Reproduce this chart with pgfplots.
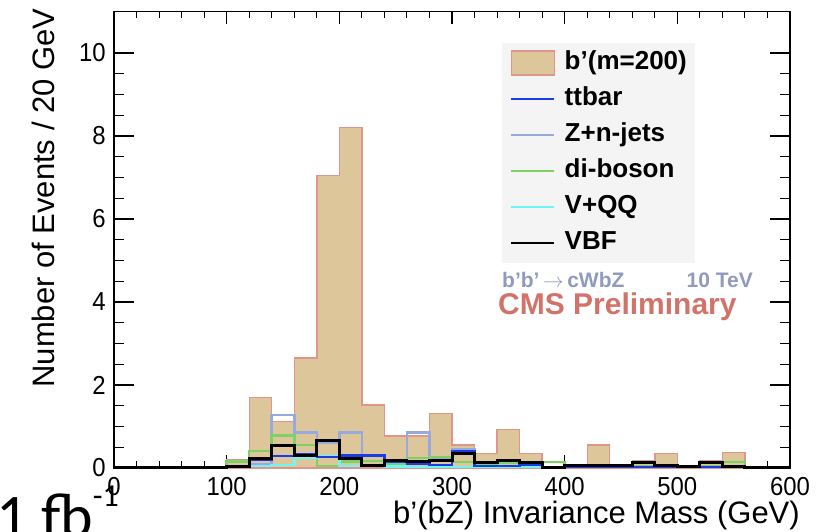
\documentclass[border=0pt]{standalone}
\usepackage{pgfplots}
\pgfplotsset{compat=1.18}
\usepackage{pgfplotstable}
\usepackage{fontspec}
\setmainfont{Liberation Sans}
\newfontfamily\tickfont[FakeStretch=0.92]{Liberation Sans}
\newfontfamily\titlefont{Liberation Sans}
\newfontfamily\lumifont{Carlito}

\definecolor{sigfill}{RGB}{221,199,154}
\definecolor{sigline}{RGB}{222,150,140}
\definecolor{ttcol}{RGB}{25,60,230}
\definecolor{zjcol}{RGB}{150,170,220}
\definecolor{dbcol}{RGB}{125,210,100}
\definecolor{vqqcol}{RGB}{110,245,245}
\definecolor{leggray}{RGB}{244,244,244}
\definecolor{proccol}{RGB}{143,154,190}
\definecolor{cmscol}{RGB}{210,115,105}

% Events per 20 GeV bin, indexed by the lower bin edge (last row closes the range)
\pgfplotstableread{
x    sig   tt    zj    db    vqq   vbf
0    0     0     0     0     0     0
20   0     0     0     0     0     0
40   0     0     0     0     0     0
60   0     0     0     0     0     0
80   0     0     0     0     0     0
100  0.19  0.02  0.03  0.16  0.02  0.03
120  1.70  0.19  0.10  0.41  0.05  0.22
140  1.12  0.29  1.28  0.78  0.07  0.55
160  2.65  0.32  0.85  0.55  0.25  0.29
180  7.05  0.26  0.60  0.05  0.28  0.66
200  8.20  0.30  0.86  0.16  0.05  0.24
220  1.52  0.30  0.30  0.17  0.05  0.07
240  0.77  0.15  0.10  0.10  0.04  0.19
260  0.77  0.10  0.86  0.24  0.03  0.15
280  1.32  0.07  0.25  0.26  0.03  0.19
300  0.55  0.40  0.45  0.15  0.03  0.35
320  0.35  0.05  0.10  0.10  0.03  0.13
340  0.93  0.05  0.04  0.12  0.03  0.18
360  0.35  0.08  0.04  0.10  0.03  0.13
380  0     0.02  0.02  0.15  0.03  0.02
400  0     0.03  0.02  0.03  0.03  0.05
420  0.55  0.02  0.02  0.03  0.03  0.07
440  0     0.02  0.02  0.03  0.03  0.05
460  0.18  0.02  0.02  0.05  0.03  0.13
480  0.35  0.02  0.02  0.03  0.03  0.07
500  0     0.02  0.02  0.02  0.03  0.04
520  0.18  0.02  0.02  0.05  0.03  0.13
540  0.37  0.03  0.02  0.15  0.02  0.03
560  0     0     0     0     0     0
580  0     0     0     0     0     0
600  0     0     0     0     0     0
}\hists

\begin{document}
\begin{tikzpicture}
\begin{axis}[
  at={(114pt,64pt)}, anchor=south west,
  scale only axis, width=676pt, height=456.5pt,
  xmin=0, xmax=600, ymin=0, ymax=11,
  xtick={0,100,...,600}, ytick={0,2,...,10},
  minor x tick num=4, minor y tick num=3,
  tick align=inside, tick pos=both,
  axis line style={line width=1.8pt},
  every tick/.style={black, line width=1.1pt},
  major tick length=20pt, minor tick length=10pt,
  xtick style={/pgfplots/major tick length=13pt, /pgfplots/minor tick length=7pt},
  /pgf/number format/assume math mode=true,
  ticklabel style={font=\tickfont\fontsize{26}{26}\selectfont},
  xticklabel style={inner sep=0pt, yshift=-9pt},
  yticklabel style={inner sep=0pt, xshift=-8pt},
  clip=false,
  legend style={at={(0.574,0.931)}, anchor=north west, fill=leggray, draw=none,
    inner xsep=8pt, inner ysep=7pt, row sep=11pt, column sep=9pt,
    font=\bfseries\fontsize{26}{26}\selectfont,
    nodes={inner sep=0pt, text height=19pt, text depth=6pt}},
  legend cell align=left,
  legend image code/.code={\draw[#1, line width=2.5pt] (0pt,0pt) -- (43pt,0pt);},
]
% signal and backgrounds, drawn back to front
\addplot[forget plot, const plot, fill=sigfill, draw=sigline, line width=1.4pt]
  table[x=x, y=sig] {\hists} \closedcycle;
\addplot[forget plot, const plot, draw=zjcol, line width=2.5pt] table[x=x, y=zj] {\hists};
\addplot[forget plot, const plot, draw=dbcol, line width=2.5pt] table[x=x, y=db] {\hists};
\addplot[forget plot, const plot, draw=vqqcol, line width=2.5pt] table[x=x, y=vqq] {\hists};
\addplot[forget plot, const plot, draw=ttcol, line width=2.5pt] table[x=x, y=tt] {\hists};
\addplot[forget plot, const plot, draw=black, line width=3pt] table[x=x, y=vbf] {\hists};

% legend entries
\addlegendimage{legend image code/.code={\draw[fill=sigfill, draw=sigline, line width=1.4pt] (0pt,-12pt) rectangle (43pt,12pt);}}
\addlegendentry{b’(m=200)\hspace{52pt}}
\addlegendimage{draw=ttcol}
\addlegendentry{ttbar}
\addlegendimage{draw=zjcol}
\addlegendentry{Z+n-jets}
\addlegendimage{draw=dbcol}
\addlegendentry{di-boson}
\addlegendimage{draw=vqqcol}
\addlegendentry{V+QQ}
\addlegendimage{draw=black}
\addlegendentry{VBF}
\end{axis}

% axis titles
\node[rotate=90, anchor=east, font=\titlefont\fontsize{31}{31}\selectfont] at (43pt,527pt) {Number of Events / 20 GeV};
\node[anchor=base east, font=\titlefont\fontsize{31}{31}\selectfont, inner sep=0pt] at (800pt,8pt) {b’(bZ) Invariance Mass (GeV)};

% process and experiment labels
\node[anchor=base west, inner sep=0pt, text=proccol, font=\bfseries\fontsize{21}{21}\selectfont] at (502pt,244pt) {b’b’\,$\rightarrow$\,cWbZ};
\node[anchor=base east, inner sep=0pt, text=proccol, font=\bfseries\fontsize{21}{21}\selectfont] at (753pt,244pt) {10 TeV};
\node[anchor=base west, inner sep=0pt, text=cmscol, font=\bfseries\fontsize{30}{30}\selectfont] at (498pt,217pt) {CMS Preliminary};

% integrated luminosity
\node[anchor=base west, inner sep=0pt, font=\lumifont\fontsize{62}{62}\selectfont] at (-4pt,-6pt) {1 fb\raisebox{0.5em}{\fontsize{32}{32}\selectfont -1}};

\pgfresetboundingbox
\path[use as bounding box] (0pt,0pt) rectangle (820pt,532pt);
\end{tikzpicture}
\end{document}
